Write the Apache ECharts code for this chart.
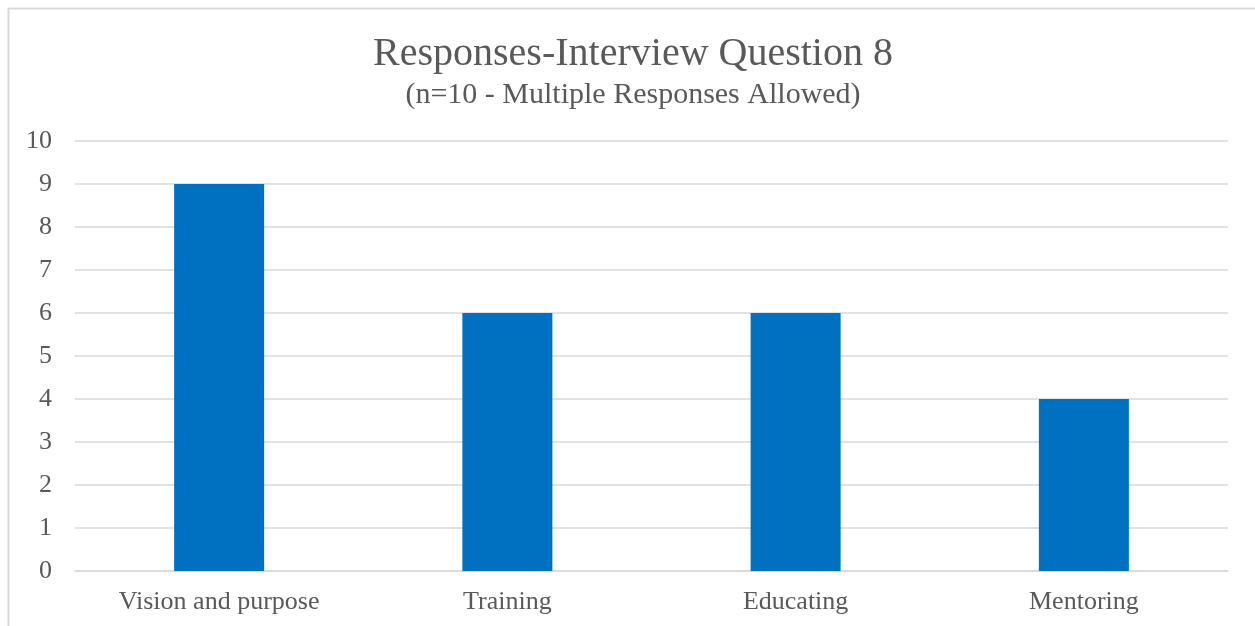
<!DOCTYPE html>
<html>
<head>
<meta charset="utf-8">
<script src="https://cdn.jsdelivr.net/npm/echarts@6/dist/echarts.min.js"></script>
<style>
  html, body { margin: 0; padding: 0; background: #fff; }
  #chart { width: 1255px; height: 626px; }
</style>
</head>
<body>
<div id="chart"></div>
<script>
// data
const categories = ["Vision and purpose", "Training", "Educating", "Mentoring"];
const responses = [9, 6, 6, 4];

const FONT = "Liberation Serif";
const TEXT = "#595959";

const chart = echarts.init(document.getElementById("chart"));
chart.setOption({
  animation: false,
  backgroundColor: "#fff",
  title: {
    text: "Responses-Interview Question 8",
    subtext: "(n=10 - Multiple Responses Allowed)",
    left: 628,
    textAlign: "center",
    top: 29,
    itemGap: 6,
    textStyle: { fontFamily: FONT, fontSize: 40, fontWeight: "normal", color: TEXT },
    subtextStyle: { fontFamily: FONT, fontSize: 30, color: TEXT },
  },
  graphic: [
    {
      type: "rect",
      shape: { x: 8.5, y: 8.5, width: 1400, height: 800 },
      style: { fill: "none", stroke: "#d9d9d9", lineWidth: 2 },
      silent: true,
    },
  ],
  grid: { left: 75, right: 27, top: 141, bottom: 55 },
  xAxis: {
    type: "category",
    data: categories,
    axisLine: { show: true, lineStyle: { color: "#d9d9d9", width: 1.5 } },
    axisTick: { show: false },
    axisLabel: { fontFamily: FONT, fontSize: 26, color: TEXT, margin: 18 },
  },
  yAxis: {
    type: "value",
    min: 0,
    max: 10,
    interval: 1,
    axisLine: { show: false },
    axisTick: { show: false },
    axisLabel: { fontFamily: FONT, fontSize: 26, color: TEXT, margin: 23 },
    splitLine: { lineStyle: { color: "#d9d9d9", width: 1.5 } },
  },
  series: [
    {
      type: "bar",
      data: responses,
      barWidth: 90,
      itemStyle: { color: "#0070c0" },
    },
  ],
});
</script>
</body>
</html>
